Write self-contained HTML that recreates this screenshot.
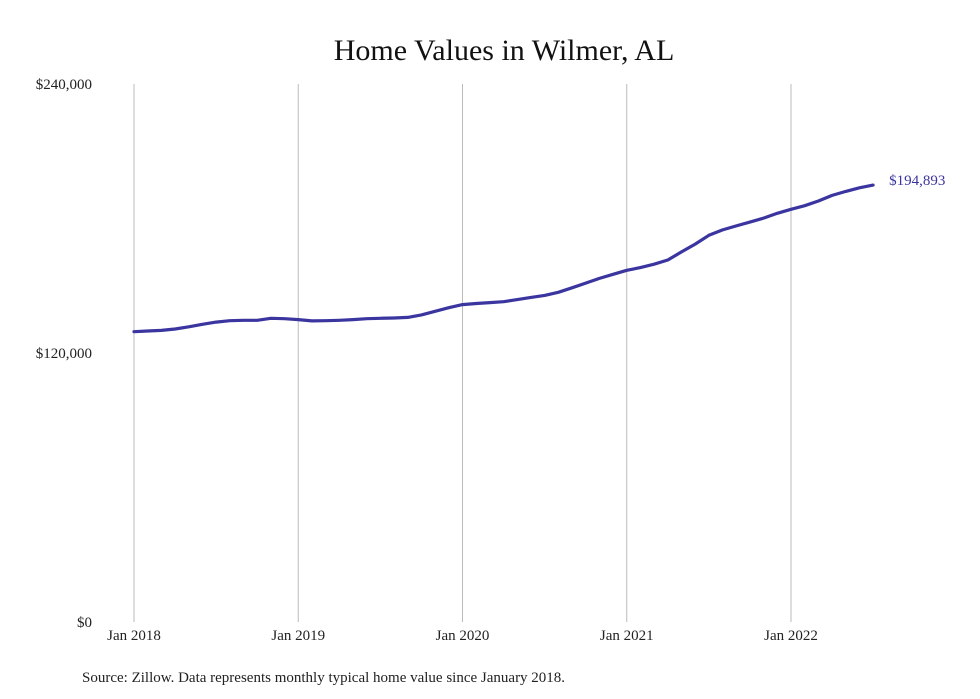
<!DOCTYPE html>
<html><head><meta charset="utf-8">
<style>
body{margin:0;background:#fff;}
svg{display:block;font-family:"Liberation Serif",serif;}
</style></head>
<body>
<svg id="chart" width="980" height="699" viewBox="0 0 980 699">
<text x="504" y="60" text-anchor="middle" font-size="30" fill="#111">Home Values in Wilmer, AL</text>
<g id="grid"></g>
<g id="yticks"></g>
<g id="xticks"></g>
<path id="line" fill="none" stroke="#3b35a0" stroke-width="3.2" stroke-linejoin="round" stroke-linecap="round"></path>
<text id="endlabel" font-size="15" fill="#3b35a0"></text>
<text x="82" y="682" font-size="15" fill="#222">Source: Zillow. Data represents monthly typical home value since January 2018.</text>
</svg>
<script>
const values=[129500,129800,130100,130700,131700,132800,133800,134400,134600,134600,135500,135300,
134900,134300,134400,134600,134900,135300,135500,135600,135900,137000,138600,140200,
141600,142100,142500,142900,143800,144800,145700,147100,149100,151200,153300,155100,
156900,158100,159600,161500,165100,168600,172500,174900,176700,178400,180200,182300,
184100,185700,187800,190300,192100,193700,194893];
const yTickValues=[0,120000,240000];
const yTickLabels=["$0","$120,000","$240,000"];
const xTickMonths=[0,12,24,36,48];
const xTickLabels=["Jan 2018","Jan 2019","Jan 2020","Jan 2021","Jan 2022"];
const NS="http://www.w3.org/2000/svg";
const x=i=>134+i*(657/48);
const y=v=>622-v/240000*538;
const grid=document.getElementById('grid'),yt=document.getElementById('yticks'),xt=document.getElementById('xticks');
xTickMonths.forEach((m,k)=>{
 const l=document.createElementNS(NS,'line');
 l.setAttribute('x1',x(m));l.setAttribute('x2',x(m));l.setAttribute('y1',84);l.setAttribute('y2',622);
 l.setAttribute('stroke','#bbb');l.setAttribute('stroke-width','1');
 
 
 grid.appendChild(l);
 const t=document.createElementNS(NS,'text');
 t.setAttribute('x',x(m));t.setAttribute('y',640);t.setAttribute('text-anchor','middle');
 t.setAttribute('font-size','15');t.setAttribute('fill','#222');
 t.textContent=xTickLabels[k];
 
 
 xt.appendChild(t);
});
yTickValues.forEach((v,k)=>{
 const t=document.createElementNS(NS,'text');
 t.setAttribute('x',92);t.setAttribute('y',y(v)+5);t.setAttribute('text-anchor','end');
 t.setAttribute('font-size','15');t.setAttribute('fill','#222');
 t.textContent=yTickLabels[k];
 
 
 yt.appendChild(t);
});
document.getElementById('line').setAttribute('d',values.map((v,i)=>(i?'L':'M')+x(i).toFixed(1)+','+y(v).toFixed(1)).join(''));
const last=values.length-1,el=document.getElementById('endlabel');
el.setAttribute('x',x(last)+16);el.setAttribute('y',y(values[last])+0);
el.textContent='$'+values[last].toLocaleString('en-US');
</script>
</body></html>
